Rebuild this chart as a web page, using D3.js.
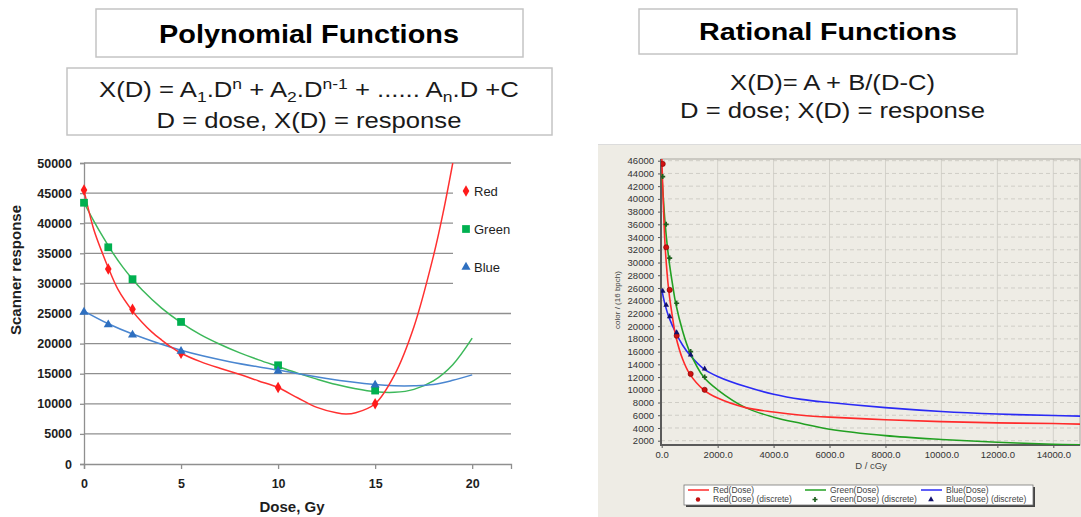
<!DOCTYPE html>
<html><head><meta charset="utf-8">
<script src="https://cdn.jsdelivr.net/npm/d3@7"></script>
<style>
html,body{margin:0;padding:0;background:#fff;}
svg{display:block;}
text{font-family:"Liberation Sans",Arial,sans-serif;}
</style></head>
<body>
<svg id="c" width="1081" height="517"></svg>
<script>
// ---------- Polynomial chart data (Dose, Gy) ----------
const polyDose  = [0, 1.25, 2.5, 5, 10, 15];
const polyRed   = [45500, 32400, 25700, 18400, 12700, 10000];
const polyGreen = [43400, 36000, 30700, 23600, 16400, 12200];
const polyBlue  = [25400, 23300, 21600, 18900, 15600, 13300];

const redFitDose   = [0,0.5,1,1.25,1.75,2.5,3,3.5,4,4.5,5,6,7,8,9,10,11,12,13,13.5,14,15,16,17,18,18.5,19];
const redFitVal    = [45500,39000,34600,32600,29000,25400,23500,21900,20600,19400,18400,17000,15900,14900,13800,12700,11000,9400,8500,8300,8500,10000,14800,22800,34500,41700,50000];
const greenFitDose = [0,0.5,1,1.5,2,2.5,3,4,5,6,7,8,9,10,11,12,13,14,15,16,17,18,19,20];
const greenFitVal  = [43400,40400,37600,35000,32700,30700,28900,25900,23500,21500,19900,18500,17300,16200,15100,14100,13200,12500,12000,11900,12400,13800,16500,20900];
const blueFitDose  = [0,1.25,2.5,5,7.5,10,12.5,15,16,17,18,19,20];
const blueFitVal   = [25400,23300,21600,18900,17000,15600,14200,13200,13000,13000,13200,13900,14800];

const polyYTicks = [0,5000,10000,15000,20000,25000,30000,35000,40000,45000,50000];
const polyXTicks = [0,5,10,15,20];
const polyLegend = ["Red","Green","Blue"];

// ---------- Rational chart data (D, cGy) ----------
const ratDose  = [0, 125, 250, 500, 1000, 1500];
const ratRed   = [45500, 32400, 25700, 18500, 12500, 10000];
const ratGreen = [43500, 36000, 30700, 23600, 16000, 12000];
const ratBlue  = [25500, 23300, 21500, 19000, 15500, 13300];

const ratRedCurveDose   = [0,60,125,250,400,500,750,1000,1500,2000,3000,4000,5000,6000,8000,10000,12000,14000,15000];
const ratRedCurveVal    = [47000,39000,32400,25700,21000,18500,14800,12500,10000,8700,7200,6500,6000,5700,5300,5000,4800,4700,4600];
const ratGreenCurveDose = [0,60,125,250,400,500,750,1000,1500,2000,3000,4000,5000,6000,8000,10000,12000,14000,15000];
const ratGreenCurveVal  = [44000,40000,36000,30700,26200,23600,19200,16000,12000,10000,7200,5700,4700,3800,2800,2200,1750,1450,1350];
const ratBlueCurveDose  = [0,60,125,250,500,750,1000,1500,2000,3000,4000,5000,6000,8000,10000,12000,14000,15000];
const ratBlueCurveVal   = [25800,24500,23300,21500,19000,17000,15500,13300,12100,10500,9300,8500,8000,7200,6600,6200,5950,5850];

const ratYTicks = d3.range(2000, 46001, 2000);
const ratXTicks = d3.range(0, 14001, 2000);
const ratLegendRow1 = ["Red(Dose)","Green(Dose)","Blue(Dose)"];
const ratLegendRow2 = ["Red(Dose) (discrete)","Green(Dose) (discrete)","Blue(Dose) (discrete)"];

const svg = d3.select("#c");
const zip = (xs, ys) => xs.map((x,i)=>[x, ys[i]]);

// ---------- headings ----------
function fitText(sel, target){
  sel.each(function(){
    const w = this.getComputedTextLength();
    const cx = +this.getAttribute("data-cx");
    const s = target / w;
    d3.select(this).attr("x", 0).attr("text-anchor","middle")
      .attr("transform", `translate(${cx},0) scale(${s},1)`);
  });
}
svg.append("rect").attr("x",96).attr("y",9).attr("width",427).attr("height",48)
  .attr("fill","#fff").attr("stroke","#c4c4c4").attr("stroke-width",1.5);
svg.append("rect").attr("x",67).attr("y",68).attr("width",485).attr("height",67)
  .attr("fill","#fff").attr("stroke","#c4c4c4").attr("stroke-width",1.5);
svg.append("rect").attr("x",639).attr("y",9).attr("width",378).attr("height",45)
  .attr("fill","#fff").attr("stroke","#c4c4c4").attr("stroke-width",1.5);

const t1 = svg.append("text").attr("data-cx",309).attr("y",43).attr("font-size",25)
  .attr("font-weight","bold").attr("fill","#000").text("Polynomial Functions");
fitText(t1, 300);

const f1 = svg.append("text").attr("data-cx",309).attr("y",97).attr("font-size",22).attr("fill","#1a1a1a");
f1.append("tspan").text("X(D) = A");
f1.append("tspan").attr("font-size",15).attr("dy",5).text("1");
f1.append("tspan").attr("dy",-5).text(".D");
f1.append("tspan").attr("font-size",15).attr("dy",-8).text("n");
f1.append("tspan").attr("dy",8).text(" + A");
f1.append("tspan").attr("font-size",15).attr("dy",5).text("2");
f1.append("tspan").attr("dy",-5).text(".D");
f1.append("tspan").attr("font-size",15).attr("dy",-8).text("n-1");
f1.append("tspan").attr("dy",8).text(" +  ...... A");
f1.append("tspan").attr("font-size",15).attr("dy",5).text("n");
f1.append("tspan").attr("dy",-5).text(".D +C");
fitText(f1, 420);

const f1b = svg.append("text").attr("data-cx",309).attr("y",128.5).attr("font-size",22)
  .attr("fill","#1a1a1a").text("D = dose, X(D) = response");
fitText(f1b, 305);

const t2 = svg.append("text").attr("data-cx",828).attr("y",40).attr("font-size",23)
  .attr("font-weight","bold").attr("fill","#000").text("Rational Functions");
fitText(t2, 258);
const f2a = svg.append("text").attr("data-cx",832.5).attr("y",90.5).attr("font-size",22)
  .attr("fill","#1a1a1a").text("X(D)= A + B/(D-C)");
fitText(f2a, 205);
const f2b = svg.append("text").attr("data-cx",832.5).attr("y",118).attr("font-size",22)
  .attr("fill","#1a1a1a").text("D = dose; X(D) = response");
fitText(f2b, 305);

// ---------- Polynomial chart ----------
const xL = d3.scaleLinear().domain([0,22]).range([84,511]);
const yL = d3.scaleLinear().domain([0,50000]).range([464,163]);
const gL = svg.append("g");
const gridCol = "#8f8f8f";

gL.append("g").selectAll("line").data(polyYTicks.filter(d=>d>0)).join("line")
  .attr("x1", xL(0)).attr("x2", xL(22))
  .attr("y1", d=>yL(d)).attr("y2", d=>yL(d))
  .attr("stroke", gridCol).attr("stroke-width",1.3);
gL.append("rect").attr("x",453).attr("y",172).attr("width",88).attr("height",118).attr("fill","#fff");

const yAxL = d3.axisLeft(yL).tickValues(polyYTicks).tickSize(4).tickPadding(8).tickFormat(d3.format("d"));
const yAxG = gL.append("g").attr("transform",`translate(${xL(0)},0)`).call(yAxL);
yAxG.select(".domain").attr("stroke",gridCol).attr("stroke-width",1.3);
yAxG.selectAll(".tick line").attr("stroke",gridCol).attr("stroke-width",1.3);
yAxG.selectAll(".tick text").attr("font-size",12.5).attr("font-weight","bold").attr("fill","#1e1e1e")
  .attr("font-family","'Liberation Sans',Arial,sans-serif");

const xAxL = d3.axisBottom(xL).tickValues(polyXTicks).tickSize(5).tickPadding(10).tickFormat(d3.format("d"));
const xAxG = gL.append("g").attr("transform",`translate(0,${yL(0)})`).call(xAxL);
xAxG.select(".domain").attr("stroke",gridCol).attr("stroke-width",1.3);
xAxG.selectAll(".tick line").attr("stroke",gridCol).attr("stroke-width",1.3);
xAxG.selectAll(".tick text").attr("font-size",12.5).attr("font-weight","bold").attr("fill","#1e1e1e")
  .attr("font-family","'Liberation Sans',Arial,sans-serif");

gL.append("text").attr("transform","translate(21,270) rotate(-90)").attr("text-anchor","middle")
  .attr("font-size",15).attr("font-weight","bold").attr("fill","#1e1e1e").text("Scanner response");
gL.append("text").attr("x",292).attr("y",512).attr("text-anchor","middle")
  .attr("font-size",15).attr("font-weight","bold").attr("fill","#1e1e1e").text("Dose, Gy");

svg.append("clipPath").attr("id","clipL").append("rect")
  .attr("x",xL(0)).attr("y",yL(50000)).attr("width",xL(22)-xL(0)).attr("height",yL(0)-yL(50000));
const lineL = d3.line().x(d=>xL(d[0])).y(d=>yL(d[1])).curve(d3.curveCatmullRom.alpha(0.5));
const colRed = "#ff1a1a", colGreen = "#00b050";
const cL = gL.append("g").attr("clip-path","url(#clipL)");
cL.append("path").datum(zip(greenFitDose,greenFitVal)).attr("d",lineL).attr("fill","none").attr("stroke","#3cb85a").attr("stroke-width",1.5);
cL.append("path").datum(zip(blueFitDose,blueFitVal)).attr("d",lineL).attr("fill","none").attr("stroke","#4a86d0").attr("stroke-width",1.5);
cL.append("path").datum(zip(redFitDose,redFitVal)).attr("d",lineL).attr("fill","none").attr("stroke","#ff3030").attr("stroke-width",1.5);

const sym = (type,size)=>d3.symbol().type(type).size(size)();
gL.append("g").selectAll("path").data(zip(polyDose,polyRed)).join("path")
  .attr("transform",d=>`translate(${xL(d[0])},${yL(d[1])})`).attr("d",sym(d3.symbolDiamond,38)).attr("fill",colRed);
gL.append("g").selectAll("path").data(zip(polyDose,polyGreen)).join("path")
  .attr("transform",d=>`translate(${xL(d[0])},${yL(d[1])})`).attr("d",sym(d3.symbolSquare,60)).attr("fill",colGreen);
gL.append("g").selectAll("path").data(zip(polyDose,polyBlue)).join("path")
  .attr("transform",d=>`translate(${xL(d[0])},${yL(d[1])+1})`).attr("d",sym(d3.symbolTriangle,36)).attr("fill","#2e6fc0");

const legTypes = [[d3.symbolDiamond,38,colRed],[d3.symbolSquare,60,colGreen],[d3.symbolTriangle,36,"#2e6fc0"]];
const legY = [191,229,267];
polyLegend.forEach((name,i)=>{
  gL.append("path").attr("transform",`translate(466,${legY[i]})`).attr("d",sym(legTypes[i][0],legTypes[i][1])).attr("fill",legTypes[i][2]);
  gL.append("text").attr("x",474).attr("y",legY[i]).attr("dy","0.35em").attr("font-size",13)
    .attr("fill","#1e1e1e").text(name);
});

// ---------- Rational chart ----------
svg.append("rect").attr("x",598).attr("y",145).attr("width",483).attr("height",372).attr("fill","#eeece5");
svg.append("line").attr("x1",598).attr("x2",1081).attr("y1",144.5).attr("y2",144.5).attr("stroke","#dcdcdc");

const xR = d3.scaleLinear().domain([0,14000]).range([661.7,1053.3]);
const yR = d3.scaleLinear().domain([2000,46000]).range([440.7,160.7]);
const pL = 661, pR = 1080, pT = 159, pB = 445;
const gR = svg.append("g");
gR.append("g").selectAll("line").data(ratXTicks.filter(d=>d>0)).join("line")
  .attr("x1",d=>xR(d)).attr("x2",d=>xR(d)).attr("y1",pT).attr("y2",pB)
  .attr("stroke","#d3d1ca").attr("stroke-width",1);
gR.append("g").selectAll("line").data(ratYTicks).join("line")
  .attr("x1",pL).attr("x2",pR).attr("y1",d=>yR(d)).attr("y2",d=>yR(d))
  .attr("stroke","#cfcdc6").attr("stroke-width",1).attr("stroke-dasharray","4,3");
gR.append("rect").attr("x",pL).attr("y",pT).attr("width",pR-pL).attr("height",pB-pT)
  .attr("fill","none").attr("stroke","#a8a6a0").attr("stroke-width",1);

const yAxR = d3.axisLeft(yR).tickValues(ratYTicks).tickSize(3).tickPadding(4).tickFormat(d3.format("d"));
const yRG = gR.append("g").attr("transform",`translate(${pL},0)`).call(yAxR);
yRG.select(".domain").remove();
yRG.selectAll(".tick line").attr("stroke","#555");
yRG.selectAll(".tick text").attr("font-size",9.5).attr("fill","#333").attr("font-family","'Liberation Sans',Arial,sans-serif");
const xAxR = d3.axisBottom(xR).tickValues(ratXTicks).tickSize(3).tickPadding(3).tickFormat(d3.format(".1f"));
const xRG = gR.append("g").attr("transform",`translate(0,${pB})`).call(xAxR);
xRG.select(".domain").remove();
xRG.selectAll(".tick line").attr("stroke","#555");
xRG.selectAll(".tick text").attr("font-size",9.5).attr("fill","#333").attr("font-family","'Liberation Sans',Arial,sans-serif");
gR.append("line").attr("x1",pL).attr("x2",pL).attr("y1",pT).attr("y2",pB+1).attr("stroke","#5a5a5a").attr("stroke-width",2);
gR.append("line").attr("x1",pL-1).attr("x2",pR).attr("y1",pB).attr("y2",pB).attr("stroke","#5a5a5a").attr("stroke-width",2);

gR.append("text").attr("transform","translate(620,300) rotate(-90)").attr("text-anchor","middle")
  .attr("font-size",8).attr("fill","#444").text("color / (16 bpch)");
gR.append("text").attr("x",871).attr("y",469).attr("text-anchor","middle")
  .attr("font-size",9.5).attr("fill","#444").text("D / cGy");

svg.append("clipPath").attr("id","clipR").append("rect").attr("x",pL).attr("y",pT).attr("width",pR-pL).attr("height",pB-pT);
const lineR = d3.line().x(d=>xR(d[0])).y(d=>yR(d[1])).curve(d3.curveCatmullRom.alpha(0.5));
const cR = gR.append("g").attr("clip-path","url(#clipR)");
cR.append("path").datum(zip(ratBlueCurveDose,ratBlueCurveVal)).attr("d",lineR).attr("fill","none").attr("stroke","#2a2af5").attr("stroke-width",1.6);
cR.append("path").datum(zip(ratGreenCurveDose,ratGreenCurveVal)).attr("d",lineR).attr("fill","none").attr("stroke","#22a022").attr("stroke-width",1.6);
cR.append("path").datum(zip(ratRedCurveDose,ratRedCurveVal)).attr("d",lineR).attr("fill","none").attr("stroke","#ff2a2a").attr("stroke-width",1.6);

cR.append("g").selectAll("circle").data(zip(ratDose,ratRed)).join("circle")
  .attr("cx",d=>xR(d[0])+1).attr("cy",d=>yR(d[1])).attr("r",2.6).attr("fill","#d01010").attr("stroke","#7a0000").attr("stroke-width",0.6);
cR.append("g").selectAll("path").data(zip(ratDose,ratGreen)).join("path")
  .attr("transform",d=>`translate(${xR(d[0])+1},${yR(d[1])})`).attr("d",sym(d3.symbolCross,14)).attr("fill","#1f5f1f");
cR.append("g").selectAll("path").data(zip(ratDose,ratBlue)).join("path")
  .attr("transform",d=>`translate(${xR(d[0])+1},${yR(d[1])})`).attr("d",sym(d3.symbolTriangle,14)).attr("fill","#10106a");

gR.append("rect").attr("x",686).attr("y",487).attr("width",349).attr("height",20).attr("fill","#444");
gR.append("rect").attr("x",684).attr("y",485).attr("width",349).attr("height",20).attr("fill","#fff").attr("stroke","#777").attr("stroke-width",0.8);
const legX = [688, 805, 921];
const legCols = ["#ff2a2a","#22a022","#2a2af5"];
ratLegendRow1.forEach((name,i)=>{
  gR.append("line").attr("x1",legX[i]).attr("x2",legX[i]+21).attr("y1",490).attr("y2",490).attr("stroke",legCols[i]).attr("stroke-width",1.5);
  gR.append("text").attr("x",legX[i]+25).attr("y",490).attr("dy","0.35em").attr("font-size",8.5).attr("fill","#444").text(name);
});
ratLegendRow2.forEach((name,i)=>{
  const cx = legX[i]+10, cy = 499.5;
  if(i===0) gR.append("circle").attr("cx",cx).attr("cy",cy).attr("r",2.2).attr("fill","#c01010");
  if(i===1) gR.append("path").attr("transform",`translate(${cx},${cy})`).attr("d",sym(d3.symbolCross,14)).attr("fill","#1f5f1f");
  if(i===2) gR.append("path").attr("transform",`translate(${cx},${cy})`).attr("d",sym(d3.symbolTriangle,14)).attr("fill","#10106a");
  gR.append("text").attr("x",legX[i]+25).attr("y",cy).attr("dy","0.35em").attr("font-size",8.5).attr("fill","#444").text(name);
});
</script>
</body></html>
